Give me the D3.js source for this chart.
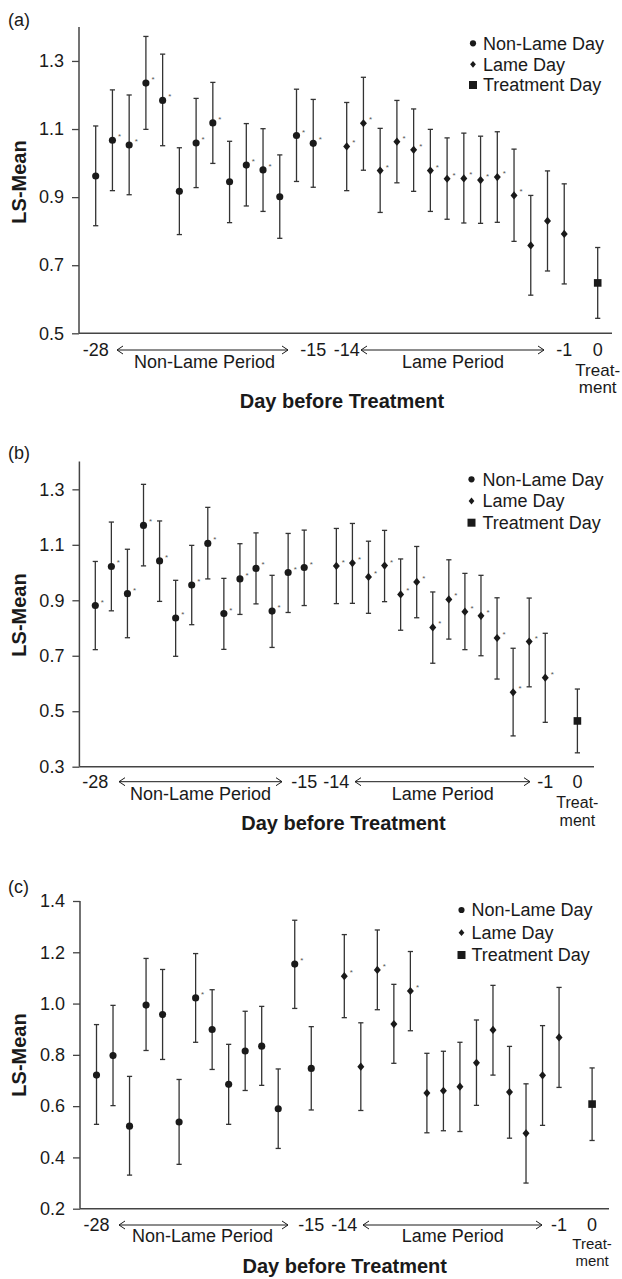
<!DOCTYPE html>
<html>
<head>
<meta charset="utf-8">
<script src="https://cdn.jsdelivr.net/npm/d3@7"></script>
<style>
  html, body { margin: 0; padding: 0; background: #fff; }
  svg { display: block; font-family: "Liberation Sans", Arial, Helvetica, sans-serif; }
</style>
</head>
<body>
<svg id="chart" width="622" height="1279"></svg>
<script>
// ---------------- DATA ----------------
const days = [-28,-27,-26,-25,-24,-23,-22,-21,-20,-19,-18,-17,-16,-15,
              -14,-13,-12,-11,-10,-9,-8,-7,-6,-5,-4,-3,-2,-1, 0];

const aMean  = [0.962,1.067,1.053,1.235,1.184,0.917,1.059,1.118,0.945,0.994,0.980,0.901,1.081,1.058,
                1.049,1.117,0.978,1.063,1.039,0.978,0.954,0.955,0.950,0.959,0.905,0.758,0.830,0.792, 0.648];
const aLower = [0.816,0.919,0.907,1.099,1.051,0.790,0.928,0.999,0.825,0.874,0.858,0.779,0.946,0.929,
                0.919,0.979,0.855,0.942,0.917,0.858,0.835,0.824,0.823,0.826,0.770,0.612,0.683,0.645, 0.544];
const aUpper = [1.109,1.215,1.200,1.372,1.320,1.045,1.190,1.237,1.064,1.116,1.101,1.024,1.217,1.187,
                1.178,1.252,1.102,1.184,1.159,1.099,1.074,1.088,1.079,1.092,1.041,0.905,0.977,0.939, 0.752];
const aStar  = [0,1,1,1,1,0,1,1,0,1,1,0,1,1, 1,1,1,1,1,1,1,1,1,1,1,0,0,0, 0];

const bMean  = [0.881,1.022,0.924,1.170,1.042,0.836,0.955,1.105,0.852,0.977,1.015,0.861,1.000,1.018,
                1.024,1.034,0.984,1.025,0.921,0.966,0.802,0.903,0.859,0.844,0.764,0.568,0.751,0.621, 0.465];
const bLower = [0.722,0.862,0.765,1.024,0.896,0.698,0.812,0.977,0.723,0.849,0.887,0.730,0.856,0.881,
                0.888,0.889,0.853,0.895,0.792,0.837,0.673,0.760,0.722,0.700,0.616,0.411,0.588,0.460, 0.350];
const bUpper = [1.040,1.182,1.084,1.318,1.186,0.972,1.098,1.235,0.979,1.104,1.143,0.990,1.141,1.153,
                1.159,1.177,1.113,1.152,1.049,1.094,0.930,1.046,0.997,0.990,0.909,0.727,0.908,0.781, 0.580];
const bStar  = [1,1,1,1,1,1,1,1,1,1,1,1,1,1, 1,1,1,1,1,1,1,1,1,1,1,1,1,1, 0];

const cMean  = [0.721,0.797,0.522,0.994,0.957,0.538,1.022,0.899,0.685,0.815,0.834,0.590,1.154,0.747,
                1.107,0.754,1.131,0.920,1.049,0.651,0.660,0.676,0.769,0.897,0.655,0.494,0.720,0.868, 0.608];
const cLower = [0.529,0.602,0.331,0.817,0.782,0.373,0.849,0.743,0.529,0.661,0.681,0.435,0.981,0.585,
                0.945,0.583,0.976,0.767,0.894,0.496,0.504,0.501,0.603,0.721,0.475,0.300,0.525,0.673, 0.466];
const cUpper = [0.918,0.993,0.716,1.176,1.133,0.704,1.195,1.054,0.841,0.970,0.989,0.745,1.325,0.910,
                1.269,0.925,1.287,1.075,1.203,0.806,0.814,0.849,0.936,1.071,0.833,0.687,0.914,1.063, 0.749];
const cStar  = [0,0,0,0,0,0,1,0,0,0,0,0,1,0, 1,0,1,0,1,0,0,0,0,0,0,0,0,0, 0];

const aTicks = [0.5, 0.7, 0.9, 1.1, 1.3];
const bTicks = [0.3, 0.5, 0.7, 0.9, 1.1, 1.3];
const cTicks = [0.2, 0.4, 0.6, 0.8, 1.0, 1.2, 1.4];

const xTickDays   = [-28, -15, -14, -1, 0];
const legendItems = ["Non-Lame Day", "Lame Day", "Treatment Day"];
const periodLabels = ["Non-Lame Period", "Lame Period"];
const yTitle = "LS-Mean";
const xTitle = "Day before Treatment";

// ---------------- HELPERS ----------------
function slotOf(d) { return d <= -15 ? d + 28 : (d < 0 ? d + 29 : 30); }
function typeOf(d) { return d <= -15 ? 0 : (d < 0 ? 1 : 2); }

const diamondType = {
  draw(ctx, size) {
    const r = Math.sqrt(size) * 0.62;
    const w = r * 0.85;
    ctx.moveTo(0, -r); ctx.lineTo(w, 0); ctx.lineTo(0, r); ctx.lineTo(-w, 0); ctx.closePath();
  }
};
const symTypes = [d3.symbolCircle, diamondType, d3.symbolSquare];
const symSizes = [40, 44, 58];

const svg = d3.select("#chart");

const panels = [
  { label: "(a)", mean: aMean, lo: aLower, hi: aUpper, star: aStar, ticks: aTicks, fmt: ".1f",
    top: 26.9, bottom: 333.3, dom: [0.5, 1.4], axisX: 79, x0: 95.7, x30: 597.7, axisEnd: 612,
    labelY: 20, legX: 473, legY: [43.3, 64.3, 85], legTextX: 483,
    tickY: 350, perY: 362, arrows: [[117, 288], [361, 544]], perX: [204.5, 453],
    treatY: [370, 387], treatFs: 17, titleY: 401, titleX: 342, ylabY: 182 },
  { label: "(b)", mean: bMean, lo: bLower, hi: bUpper, star: bStar, ticks: bTicks, fmt: ".1f",
    top: 461.6, bottom: 766.7, dom: [0.3, 1.4], axisX: 79.4, x0: 95.3, x30: 577.4, axisEnd: 594,
    labelY: 453, legX: 471.5, legY: [479.3, 501, 522.7], legTextX: 482.5,
    tickY: 781.7, perY: 794, arrows: [[119, 282], [355, 530]], perX: [200.6, 442.8],
    treatY: [802, 820.5], treatFs: 16, titleY: 823, titleX: 343.5, ylabY: 615 },
  { label: "(c)", mean: cMean, lo: cLower, hi: cUpper, star: cStar, ticks: cTicks, fmt: ".1f",
    top: 901, bottom: 1208.7, dom: [0.2, 1.4], axisX: 80, x0: 96.5, x30: 592.1, axisEnd: 609,
    labelY: 887, legX: 461.5, legY: [910, 932.7, 955], legTextX: 471.5,
    tickY: 1225, perY: 1236, arrows: [[119, 288], [363, 542]], perX: [202.5, 452.7],
    treatY: [1244, 1261], treatFs: 15, titleY: 1266, titleX: 344.7, ylabY: 1055 }
];

const ink = "#1a1a1a";
const axisCol = "#444";

panels.forEach(p => {
  const g = svg.append("g");
  const y = d3.scaleLinear().domain(p.dom).range([p.bottom, p.top]);
  const x = d3.scaleLinear().domain([0, 30]).range([p.x0, p.x30]);

  // panel label
  g.append("text").attr("x", 8).attr("y", p.labelY).attr("dy", "0.35em")
    .attr("font-size", 18).attr("fill", ink).text(p.label);

  // y axis
  const yAxis = d3.axisLeft(y).tickValues(p.ticks).tickFormat(d3.format(p.fmt))
    .tickSize(7).tickPadding(8);
  const ya = g.append("g").attr("transform", `translate(${p.axisX},0)`).call(yAxis);
  ya.select(".domain").attr("stroke", axisCol).attr("stroke-width", 1.5)
    .attr("d", `M0,${p.top}V${p.bottom}`);
  ya.selectAll(".tick line").attr("stroke", axisCol).attr("stroke-width", 1.3);
  ya.selectAll(".tick text").attr("font-size", 18).attr("fill", ink)
    .attr("font-family", "'Liberation Sans', Arial, sans-serif");

  // x axis line
  g.append("line").attr("x1", p.axisX).attr("x2", p.axisEnd)
    .attr("y1", p.bottom).attr("y2", p.bottom)
    .attr("stroke", axisCol).attr("stroke-width", 1.5);

  // x tick labels
  g.selectAll(".xl").data(xTickDays).enter().append("text")
    .attr("x", d => x(slotOf(d))).attr("y", p.tickY).attr("dy", "0.35em")
    .attr("text-anchor", "middle").attr("font-size", 18).attr("fill", ink)
    .text(d => d3.format("d")(d).replace("−", "-"));

  // Treat- / ment
  ["Treat-", "ment"].forEach((t, i) => {
    g.append("text").attr("x", x(30)).attr("y", p.treatY[i]).attr("dy", "0.35em")
      .attr("text-anchor", "middle").attr("font-size", p.treatFs).attr("fill", ink).text(t);
  });

  // period arrows
  p.arrows.forEach((a, i) => {
    const ay = p.tickY;
    g.append("line").attr("x1", a[0]).attr("x2", a[1]).attr("y1", ay).attr("y2", ay)
      .attr("stroke", ink).attr("stroke-width", 1);
    g.append("path").attr("d", `M${a[0] + 6},${ay - 4}L${a[0]},${ay}L${a[0] + 6},${ay + 4}`)
      .attr("fill", "none").attr("stroke", ink).attr("stroke-width", 1);
    g.append("path").attr("d", `M${a[1] - 6},${ay - 4}L${a[1]},${ay}L${a[1] - 6},${ay + 4}`)
      .attr("fill", "none").attr("stroke", ink).attr("stroke-width", 1);
    g.append("text").attr("x", p.perX[i]).attr("y", p.perY).attr("dy", "0.35em")
      .attr("text-anchor", "middle").attr("font-size", 18).attr("fill", ink).text(periodLabels[i]);
  });

  // axis titles
  g.append("text").attr("x", p.titleX).attr("y", p.titleY).attr("dy", "0.35em")
    .attr("text-anchor", "middle").attr("font-size", 20).attr("font-weight", "bold")
    .attr("fill", ink).text(xTitle);
  g.append("text").attr("transform", `translate(19,${p.ylabY}) rotate(-90)`)
    .attr("dy", "0.35em").attr("text-anchor", "middle").attr("font-size", 20)
    .attr("font-weight", "bold").attr("fill", ink).text(yTitle);

  // data
  const rows = days.map((d, i) => ({ d, m: p.mean[i], lo: p.lo[i], hi: p.hi[i], s: p.star[i] }));

  const eb = g.append("g");
  rows.forEach(r => {
    const cx = x(slotOf(r.d));
    eb.append("line").attr("x1", cx).attr("x2", cx).attr("y1", y(r.lo)).attr("y2", y(r.hi))
      .attr("stroke", "#333").attr("stroke-width", 1.3);
    [r.lo, r.hi].forEach(v => {
      eb.append("line").attr("x1", cx - 2.6).attr("x2", cx + 2.6).attr("y1", y(v)).attr("y2", y(v))
        .attr("stroke", "#333").attr("stroke-width", 1.3);
    });
  });

  g.selectAll(".pt").data(rows).enter().append("path")
    .attr("transform", r => `translate(${x(slotOf(r.d))},${y(r.m)})`)
    .attr("d", r => d3.symbol().type(symTypes[typeOf(r.d)]).size(symSizes[typeOf(r.d)])())
    .attr("fill", ink);

  g.selectAll(".st").data(rows.filter(r => r.s)).enter().append("text")
    .attr("x", r => x(slotOf(r.d)) + 5.5).attr("y", r => y(r.m) - 1)
    .attr("font-size", 8).attr("fill", "#555").text("*");

  // legend
  legendItems.forEach((t, i) => {
    g.append("path").attr("transform", `translate(${p.legX},${p.legY[i]})`)
      .attr("d", d3.symbol().type(symTypes[i]).size(i === 2 ? 64 : 30)())
      .attr("fill", ink);
    g.append("text").attr("x", p.legTextX).attr("y", p.legY[i]).attr("dy", "0.35em")
      .attr("font-size", 18).attr("fill", ink).text(t);
  });
});
</script>
</body>
</html>
